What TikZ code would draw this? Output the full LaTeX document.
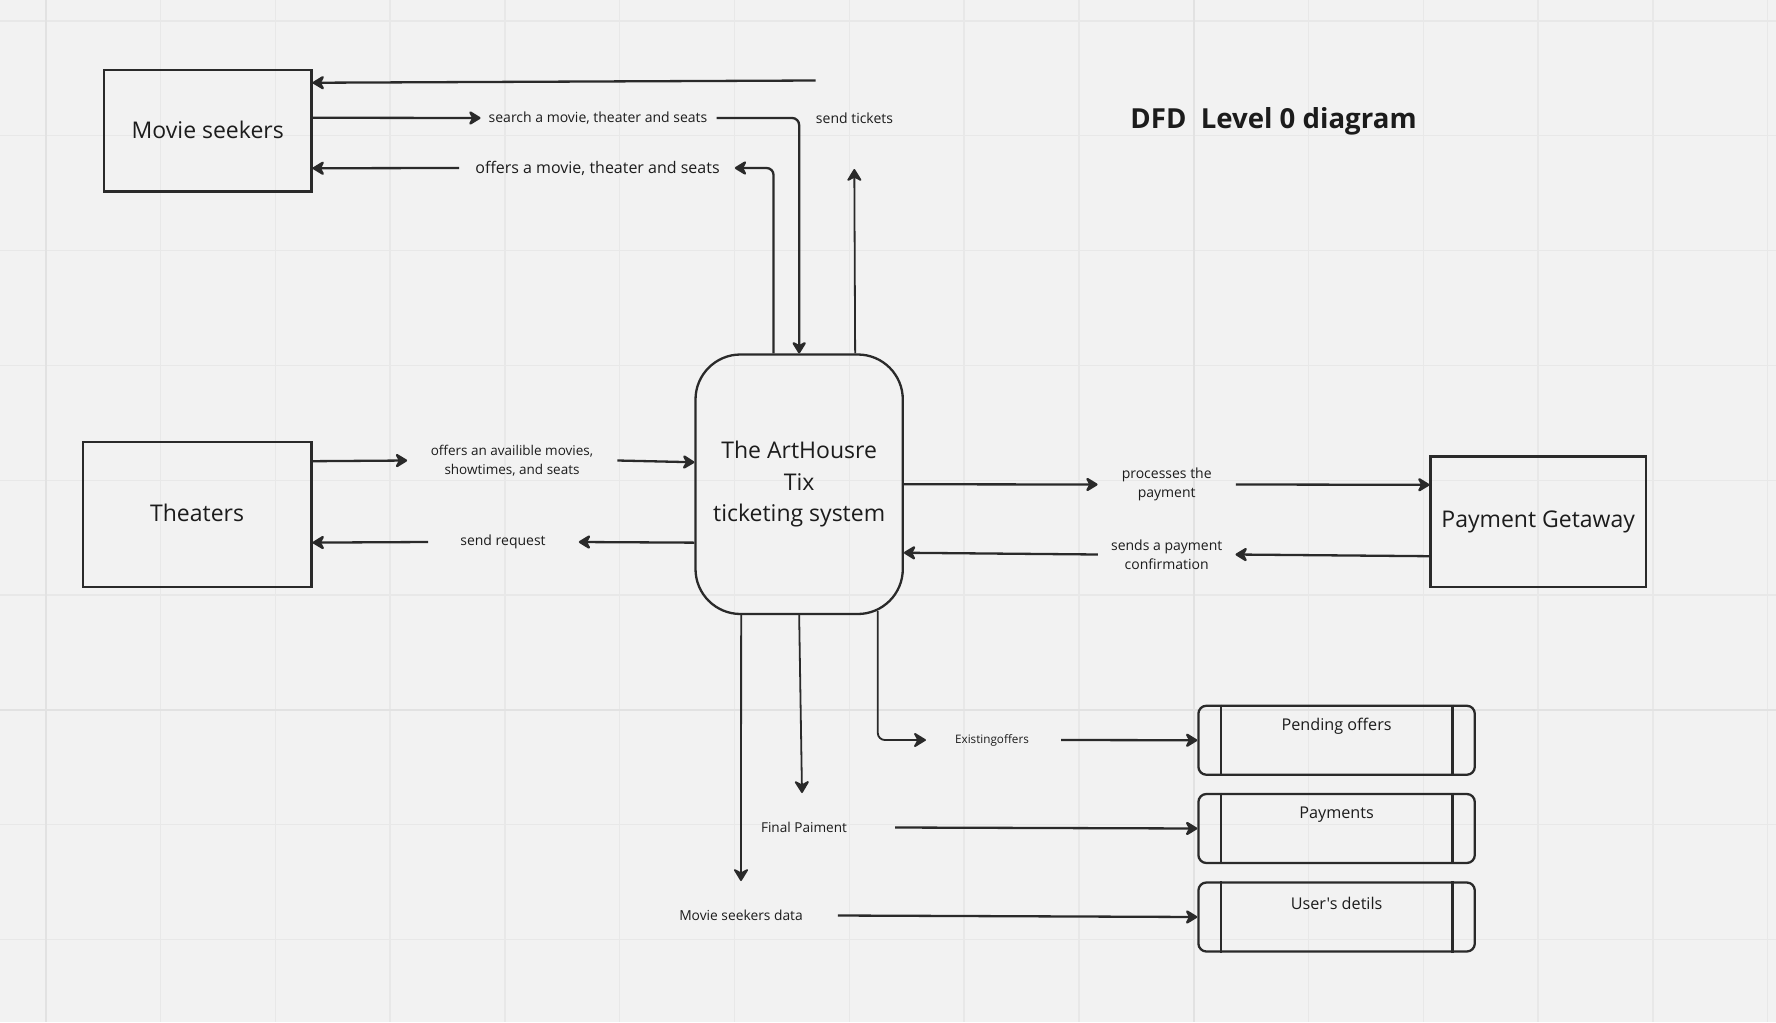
\documentclass[tikz,border=0pt]{standalone}
\usepackage{fontspec}
\setmainfont{Open Sans}
\newfontfamily\nomapfont{Open Sans}[Ligatures=ResetAll]
\usetikzlibrary{arrows.meta,calc}
\definecolor{bg}{HTML}{F2F2F2}
\definecolor{gridminor}{HTML}{E8E8E8}
\definecolor{gridmajor}{HTML}{E2E2E2}
\definecolor{ink}{HTML}{2A2A2A}
\definecolor{txt}{HTML}{1C1C1C}
\begin{document}
\begin{tikzpicture}[x=1pt,y=-1pt,
  box/.style={draw=ink, line width=2.3pt, inner sep=0pt, text=txt, font=\fontsize{23}{28}\selectfont},
  store/.style={draw=ink, line width=2.3pt, rounded corners=8pt, minimum width=276.4pt, minimum height=69pt, inner sep=0pt},
  storetxt/.style={text=txt, inner sep=0pt, font=\fontsize{16.2}{19}\selectfont},
  lbl/.style={text=txt, inner sep=0pt, align=center},
  flow/.style={draw=ink, line width=2.3pt, -{Stealth[length=14pt,width=17pt,inset=4.5pt,round]}},
  thin/.style={line width=1.8pt},
  plainline/.style={draw=ink, line width=2.3pt}]
% background and grid
\fill[bg] (0,0) rectangle (1776,1022);
\useasboundingbox (0,0) rectangle (1776,1022);
\foreach \k in {0,...,15} {
  \draw[gridminor, line width=1.3pt] ({45.7+114.8*\k},0) -- ({45.7+114.8*\k},1022);
}
\foreach \k in {0,...,8} {
  \draw[gridminor, line width=1.3pt] (0,{21+114.8*\k}) -- (1776,{21+114.8*\k});
}
\draw[gridmajor, line width=1.6pt] (45.7,0) -- (45.7,1022);
\draw[gridmajor, line width=1.6pt] (1193.7,0) -- (1193.7,1022);
\draw[gridmajor, line width=1.6pt] (0,709.8) -- (1776,709.8);

% title
\node[text=txt, inner sep=0pt, font=\bfseries\fontsize{27.6}{32}\selectfont] (title) at (1273.5,121.5) {DFD\ \ Level 0 diagram};

% entities
\node[box, minimum width=207.5pt, minimum height=121.5pt] (ms) at (207.75,130.75) {\raisebox{2.2pt}{Movie seekers}};
\node[box, minimum width=228.8pt, minimum height=145pt] (th) at (197.1,514.2) {\raisebox{2.2pt}{Theaters}};
\node[box, rounded corners=45pt, minimum width=207.3pt, minimum height=259.5pt, align=center, font=\fontsize{23}{31.7}\selectfont] (sys) at (799.15,484.25) {The ArtHousre\\Tix\\ticketing system};
\node[box, minimum width=215.2pt, minimum height=130.2pt] (pg) at (1538.2,521.6) {Payment Getaway};

% data stores
\node[store] (po) at (1336.6,740.25) {};
\node[store] (pay) at (1336.6,828.5) {};
\node[store] (ud) at (1336.6,917) {};
\foreach \s in {po,pay,ud} {
  \draw[plainline] ([xshift=23.6pt]\s.north west) -- ([xshift=23.6pt]\s.south west);
  \draw[plainline] ([xshift=-23.6pt]\s.north east) -- ([xshift=-23.6pt]\s.south east);
}
\node[storetxt] (lpo) at ([yshift=-21.8pt]po.north) {Pending offers};
\node[storetxt] (lpay) at ([yshift=-21.8pt]pay.north) {Payments};
\node[storetxt] (lud) at ([yshift=-22.5pt]ud.north) {{\nomapfont User's detils}};

% movie seekers flows
\coordinate (tt) at (815.5,80.5);
\draw[flow] (tt) -- ([yshift=48pt]ms.east);

\node[lbl, font=\fontsize{14}{17}\selectfont] (lsearch) at (598,118) {search a movie, theater and seats};
\draw[flow] ([yshift=13pt]ms.east) -- ([xshift=-8pt]lsearch.west);
\draw[flow, rounded corners=7pt] ([xshift=9pt]lsearch.east) -| (sys.north);

\node[lbl, font=\fontsize{16}{19}\selectfont] (loffers) at (597.5,168) {offers a movie, theater and seats};
\draw[flow] ([xshift=-16pt]loffers.west) -- ([yshift=-37.5pt]ms.east);
\draw[flow, rounded corners=7pt] ([xshift=-25.6pt]sys.north) |- ([xshift=15pt]loffers.east);

\node[lbl, font=\fontsize{14}{17}\selectfont] (lsend) at (854.5,118) {send tickets};
\coordinate (stip) at (854.3,169);
\draw[flow, thin] ([xshift=56pt]sys.north) -- (stip);

% theaters flows
\node[lbl, font=\fontsize{13.5}{19.3}\selectfont] (lavail) at (512,460.5) {offers an availible movies,\\showtimes, and seats};
\draw[flow] ([yshift=53pt]th.east) -- ([xshift=-23.5pt]lavail.west);
\draw[flow] ([xshift=24pt]lavail.east) -- ([yshift=22pt]sys.west);

\node[lbl, font=\fontsize{14}{17}\selectfont] (lreq) at (503,542) {send request};
\draw[flow] ([yshift=-58.4pt]sys.west) -- ([xshift=33pt]lreq.east);
\draw[flow] ([xshift=-32pt]lreq.west) -- ([yshift=-28.4pt]th.east);

% payment flows
\node[lbl, font=\fontsize{14}{19.3}\selectfont] (lproc) at (1166.7,484.5) {processes the\\payment};
\draw[flow] (sys.east) -- ([xshift=-24pt]lproc.west);
\draw[flow] ([xshift=24pt]lproc.east) -- ([yshift=36.8pt]pg.west);

\node[lbl, font=\fontsize{14}{19.3}\selectfont] (lconf) at (1166.7,554.5) {sends a payment\\confirmation};
\draw[flow] ([yshift=-34.6pt]pg.west) -- ([xshift=13pt]lconf.east);
\draw[flow] ([xshift=-13pt]lconf.west) -- ([yshift=-68.5pt]sys.east);

% data store flows
\node[lbl, font=\fontsize{11.7}{14}\selectfont] (leo) at (992,740) {Existingoffers};
\coordinate (eostart) at (877.8,611);
\draw[flow, thin, rounded corners=7pt] (eostart) |- ([xshift=-29pt]leo.west);
\draw[flow] ([xshift=32pt]leo.east) -- (po.west);

\node[lbl, font=\fontsize{13.6}{17}\selectfont] (lfp) at (804,827.5) {Final Paiment};
\coordinate (fptip) at (802,793);
\draw[flow, thin] (sys.south) -- (fptip);
\draw[flow] ([xshift=48pt]lfp.east) -- (pay.west);

\node[lbl, font=\fontsize{13.8}{17}\selectfont] (lmsd) at (741,915.5) {Movie seekers data};
\coordinate (msdtip) at (741,881);
\draw[flow, thin] ([xshift=-58pt]sys.south) -- (msdtip);
\draw[flow] ([xshift=35pt]lmsd.east) -- (ud.west);
\end{tikzpicture}
\end{document}
